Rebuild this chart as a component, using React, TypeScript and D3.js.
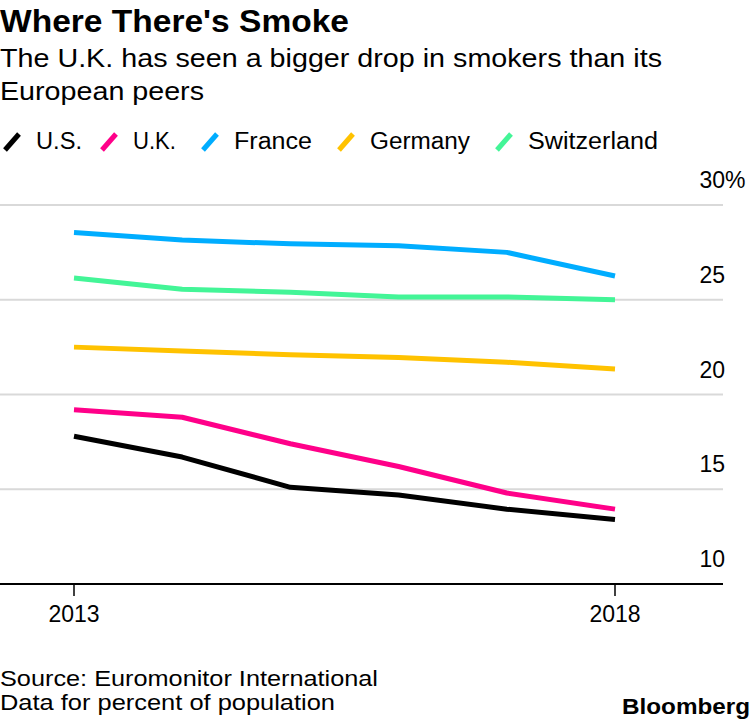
import React from 'react';
import * as d3 from 'd3';

const years = [2013, 2014, 2015, 2016, 2017, 2018];

const us = [17.8, 16.7, 15.1, 14.7, 13.95, 13.4];
const uk = [19.2, 18.8, 17.4, 16.2, 14.8, 13.95];
const france = [28.55, 28.15, 27.95, 27.85, 27.5, 26.25];
const germany = [22.5, 22.3, 22.1, 21.95, 21.7, 21.35];
const switzerland = [26.15, 25.55, 25.4, 25.15, 25.15, 25.0];

const seriesNames = ['U.S.', 'U.K.', 'France', 'Germany', 'Switzerland'];
const seriesColors = ['#000000', '#ff0089', '#00adff', '#ffc200', '#43f597'];
const yTicks = [10, 15, 20, 25, 30];
const xTicks = [2013, 2018];

const font = '"Liberation Sans", Arial, sans-serif';

// text widths measured on the original, used to stretch the glyphs a little
const legendX = [3, 100, 201, 337, 495];
const legendWidths = [46, 43, 78, 100, 130];

const App: React.FC = () => {
  const width = 750;
  const height = 722;

  const x = d3.scaleLinear().domain([2013, 2018]).range([74, 615]);
  const y = d3.scaleLinear().domain([10, 30]).range([584, 205]);

  const allSeries = [us, uk, france, germany, switzerland];
  // draw order: keep U.S. on top
  const drawOrder = [4, 3, 2, 1, 0];

  const line = d3.line<number>()
    .x((_, i) => x(years[i]))
    .y(d => y(d));

  return (
    <svg width={width} height={height} style={{position: 'absolute', left: 0, top: 0, background: '#fff'}}
         fontFamily={font}>
      <text x={0} y={32} fontSize={32} fontWeight="bold" fill="#000"
            textLength={349} lengthAdjust="spacingAndGlyphs">Where There's Smoke</text>
      <text x={0} y={67} fontSize={26} fill="#000" textLength={662} lengthAdjust="spacingAndGlyphs">
        The U.K. has seen a bigger drop in smokers than its
      </text>
      <text x={0} y={100} fontSize={26} fill="#000" textLength={204} lengthAdjust="spacingAndGlyphs">
        European peers
      </text>

      {/* legend */}
      {seriesNames.map((name, i) => (
        <g key={name} transform={`translate(${legendX[i]},0)`}>
          <line x1={2} y1={150} x2={16} y2={134} stroke={seriesColors[i]} strokeWidth={5}/>
          <text x={33} y={149} fontSize={23} fill="#000" textLength={legendWidths[i]}
                lengthAdjust="spacingAndGlyphs">{name}</text>
        </g>
      ))}

      {/* gridlines */}
      {yTicks.slice(1).map(t => (
        <line key={t} x1={0} x2={723} y1={y(t)} y2={y(t)} stroke="#d9d9d9" strokeWidth={2}/>
      ))}
      {yTicks.map(t => (
        <g key={'l' + t}>
          <text x={725} y={y(t) - 17} fontSize={23} textAnchor="end" fill="#000">{t}</text>
          {t === 30 && <text x={725} y={y(t) - 17} fontSize={23} fill="#000">%</text>}
        </g>
      ))}

      {/* series */}
      {drawOrder.map(i => (
        <path key={seriesNames[i]} d={line(allSeries[i]) || ''} fill="none" stroke={seriesColors[i]}
              strokeWidth={5} strokeLinejoin="round" strokeLinecap="butt"/>
      ))}

      {/* x axis */}
      <line x1={0} x2={723} y1={y(10)} y2={y(10)} stroke="#000" strokeWidth={2}/>
      {xTicks.map(t => (
        <g key={t}>
          <line x1={x(t)} x2={x(t)} y1={y(10)} y2={y(10) + 12} stroke="#000" strokeWidth={1.5}/>
          <text x={x(t)} y={622} fontSize={23} textAnchor="middle" fill="#000">{t}</text>
        </g>
      ))}

      {/* footer */}
      <text x={0} y={686} fontSize={22} fill="#000" textLength={378} lengthAdjust="spacingAndGlyphs">
        Source: Euromonitor International
      </text>
      <text x={0} y={710} fontSize={22} fill="#000" textLength={335} lengthAdjust="spacingAndGlyphs">
        Data for percent of population
      </text>
      <text x={622} y={714} fontSize={22} fontWeight="bold" fill="#000"
            textLength={128} lengthAdjust="spacingAndGlyphs">Bloomberg</text>
    </svg>
  );
};

export default App;
